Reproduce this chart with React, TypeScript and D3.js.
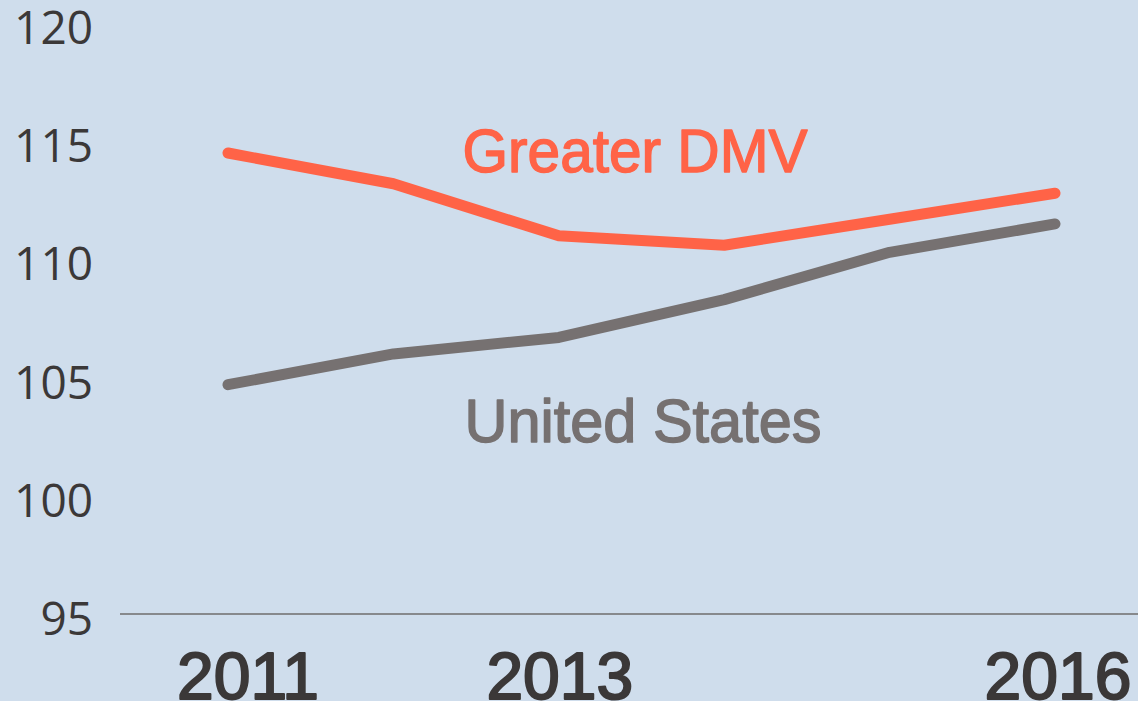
import React from "react";
import * as d3 from "d3";

const years = [2011, 2012, 2013, 2014, 2015, 2016];
const dmvValues = [114.5, 113.2, 111.0, 110.6, 111.7, 112.8];
const usValues = [104.7, 106.0, 106.7, 108.3, 110.3, 111.5];
const yTicks = [95, 100, 105, 110, 115, 120];
const xTickYears = [2011, 2013, 2016];

const W = 1138;
const H = 701;

export default function App() {
  const x = d3.scaleLinear().domain([2011, 2016]).range([228, 1055]);
  const y = d3.scaleLinear().domain([95, 120]).range([614, 23]);
  const line = d3
    .line<number>()
    .x((_, i) => x(years[i]))
    .y((d) => y(d));

  const axisFont = "'Open Sans', 'Noto Sans', sans-serif";
  const labelFont = "'Liberation Sans', Arial, sans-serif";

  return (
    <svg
      width={W}
      height={H}
      style={{ position: "absolute", left: 0, top: 0, display: "block" }}
    >
      <rect x={0} y={0} width={W} height={H} fill="#cfddec" />
      {yTicks.map((t) => (
        <text
          key={t}
          x={93}
          y={y(t) + 3}
          textAnchor="end"
          dominantBaseline="central"
          fontFamily={axisFont}
          fontSize={46}
          fill="#3b3838"
        >
          {t}
        </text>
      ))}
      <line x1={120} x2={W} y1={y(95)} y2={y(95)} stroke="#6f6c6c" strokeWidth={1.5} />
      {xTickYears.map((yr, i) => (
        <text
          key={yr}
          x={x(yr) + (i === 0 ? 20 : i === 2 ? 3 : 1)}
          y={699}
          textAnchor="middle"
          fontFamily={labelFont}
          fontSize={66}
          fill="#3b3838"
          stroke="#3b3838"
          strokeWidth={2}
          strokeLinejoin="round"
        >
          {yr}
        </text>
      ))}
      <path
        d={line(usValues) || ""}
        fill="none"
        stroke="#767171"
        strokeWidth={11}
        strokeLinecap="round"
        strokeLinejoin="round"
      />
      <path
        d={line(dmvValues) || ""}
        fill="none"
        stroke="#ff6347"
        strokeWidth={11}
        strokeLinecap="round"
        strokeLinejoin="round"
      />
      <text
        x={635}
        y={172}
        textAnchor="middle"
        fontFamily={labelFont}
        fontSize={62}
        textLength={345}
        lengthAdjust="spacingAndGlyphs"
        fill="#ff6347"
        stroke="#ff6347"
        strokeWidth={1.5}
        strokeLinejoin="round"
      >
        Greater DMV
      </text>
      <text
        x={643}
        y={442}
        textAnchor="middle"
        fontFamily={labelFont}
        fontSize={62}
        textLength={357}
        lengthAdjust="spacingAndGlyphs"
        fill="#767171"
        stroke="#767171"
        strokeWidth={1.5}
        strokeLinejoin="round"
      >
        United States
      </text>
    </svg>
  );
}
